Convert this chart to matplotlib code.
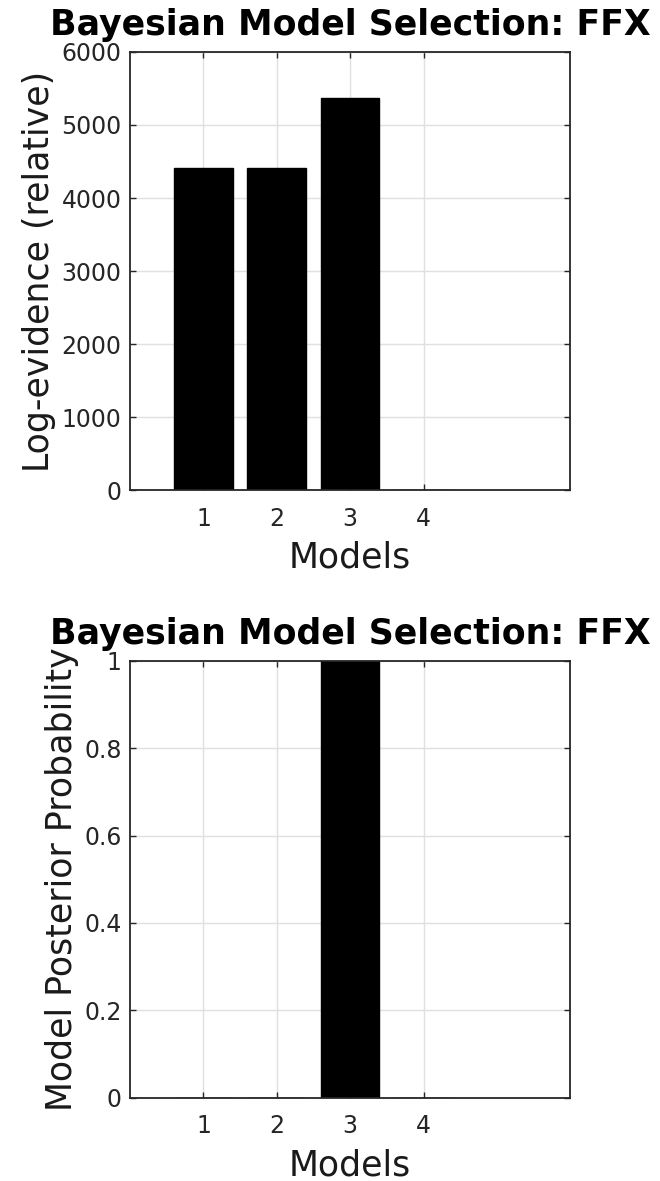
import numpy as np
import matplotlib.pyplot as plt

# Model comparison results (fixed effects)
models = [1, 2, 3, 4]
log_evidence = [4415, 4415, 5365, 0]
posterior_prob = [0, 0, 1, 0]

title = 'Bayesian Model Selection: FFX'
axis_col = '#262626'

fig = plt.figure(figsize=(6.6, 11.81), dpi=100)
ax1 = fig.add_axes([0.197, 0.585, 0.667, 0.371])
ax2 = fig.add_axes([0.197, 0.0705, 0.667, 0.370])


def style_axes(ax, yticks, ylabels, ylabel):
    ax.set_axisbelow(True)
    ax.grid(True, color='#e0e0e0', linewidth=1)
    ax.set_xlim(0, 6)
    ax.set_xticks(models)
    ax.set_yticks(yticks)
    ax.set_yticklabels(ylabels)
    ax.tick_params(direction='in', length=4, width=1, colors=axis_col,
                   labelsize=17, top=True, right=True,
                   labelcolor='#262626')
    ax.tick_params(axis='x', pad=12)
    ax.tick_params(axis='y', pad=6)
    for sp in ax.spines.values():
        sp.set_color(axis_col)
        sp.set_linewidth(1.3)
    ax.set_xlabel('Models', fontsize=25, color='#1a1a1a', labelpad=7)
    ax.set_ylabel(ylabel, fontsize=25, color='#1a1a1a', labelpad=4)
    ax.set_title(title, fontsize=25, fontweight='bold', pad=12)


ax1.bar(models, log_evidence, width=0.8, color='black', edgecolor='black')
ax1.set_ylim(0, 6000)
style_axes(ax1, np.arange(0, 6001, 1000),
           [str(v) for v in range(0, 6001, 1000)], 'Log-evidence (relative)')

ax2.bar(models, posterior_prob, width=0.8, color='black', edgecolor='black')
ax2.set_ylim(0, 1)
style_axes(ax2, [0, 0.2, 0.4, 0.6, 0.8, 1],
           ['0', '0.2', '0.4', '0.6', '0.8', '1'], 'Model Posterior Probability')

fig.savefig('out.png', dpi=100)
